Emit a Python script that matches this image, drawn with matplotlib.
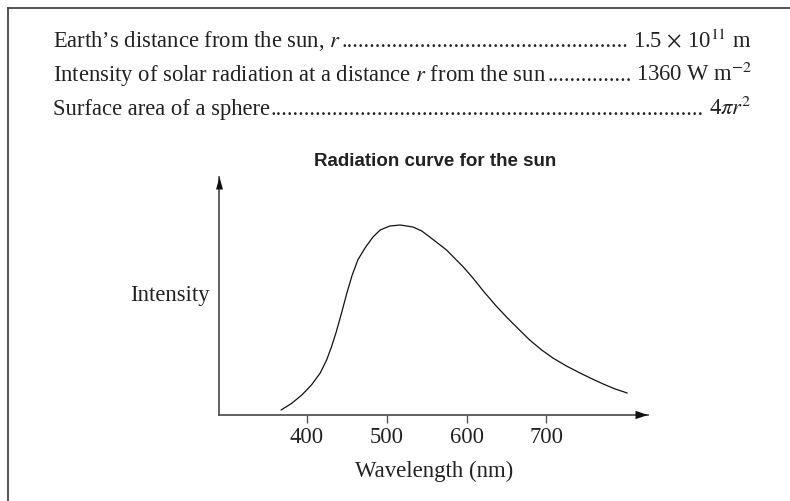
import matplotlib
matplotlib.use("Agg")
import matplotlib.pyplot as plt
from matplotlib.lines import Line2D

plt.rcParams['mathtext.fontset'] = 'stix'
plt.rcParams['font.family'] = ['Liberation Serif', 'DejaVu Serif']

# ---- data (intensity in arbitrary units) ----
wavelength = [368, 381, 394, 406, 417, 425, 431, 437, 444, 450, 457, 464, 473,
              483, 492, 504, 517, 533, 544, 554, 575, 596, 608, 621, 636, 650,
              665, 679, 694, 708, 725, 742, 756, 771, 786, 801]
intensity = [5, 11.5, 20, 30, 42, 55, 68, 83, 103, 121, 140, 155, 167,
             178, 185, 189, 190, 188, 184, 178, 165, 148, 137, 124, 110, 98,
             86, 75, 65, 57, 49, 42, 36.5, 31, 26, 22]
xticks = [400, 500, 600, 700]
title = "Radiation curve for the sun"
xlabel = "Wavelength (nm)"
ylabel = "Intensity"
info_labels = ["Earth\u2019s distance from the sun, $r$",
               "Intensity of solar radiation at a distance $r$ from the sun",
               "Surface area of a sphere"]
info_values = [r"1.5 $\times$ 10$^{11}$ m",
               r"1360 W m$^{-2}$",
               r"4$\pi r^2$"]

W, H = 790, 501
fig = plt.figure(figsize=(W / 100, H / 100), dpi=100)
fig.patch.set_facecolor('white')

# axes placement (pixels)
x0, x1 = 219.5, 648.0
y_axis, y_top = 415.0, 177.0
ax = fig.add_axes([x0 / W, 1 - y_axis / H, (x1 - x0) / W, (y_axis - y_top) / H])
ax.set_xlim(291, 827)
ax.set_ylim(0, 238)
ax.patch.set_alpha(0)

axis_col = '#555555'
txt_col = '#222222'
for s in ['top', 'right']:
    ax.spines[s].set_visible(False)
for s in ['left', 'bottom']:
    ax.spines[s].set_color(axis_col)
    ax.spines[s].set_linewidth(1.3)

ax.plot(wavelength, intensity, color='#111111', lw=0.9,
        solid_joinstyle='round', solid_capstyle='round')

ax.set_xticks(xticks)
ax.set_xticklabels([str(t) for t in xticks])
ax.set_yticks([])
ax.tick_params(axis='x', direction='out', length=5.5, width=1.0, color=axis_col,
               labelsize=16.3, labelcolor=txt_col, pad=3)

# arrow heads
ax.annotate('', xy=(1, 0), xycoords='axes fraction', xytext=(-10, 0),
            textcoords='offset points',
            arrowprops=dict(arrowstyle='-|>,head_length=0.9,head_width=0.3',
                            color='#111111', lw=0, shrinkA=0, shrinkB=0))
ax.annotate('', xy=(0, 1), xycoords='axes fraction', xytext=(0, -10),
            textcoords='offset points',
            arrowprops=dict(arrowstyle='-|>,head_length=0.9,head_width=0.25',
                            color='#111111', lw=0, shrinkA=0, shrinkB=0))

ax.set_xlabel(xlabel, fontsize=16.4, color=txt_col, labelpad=9.5)
fig.text(210 / W, 1 - 296 / H, ylabel, ha='right', va='center', fontsize=16.3,
         color=txt_col)

fig.text(435 / W, 1 - 162 / H, title, ha='center', va='center',
         fontsize=13.5, fontweight='bold', family='Liberation Sans', color=txt_col)

# frame lines (left and top)
fig.add_artist(Line2D([8 / W, 8 / W], [0, 1 - 8 / H], transform=fig.transFigure,
                      color='#444444', lw=1.3))
fig.add_artist(Line2D([8 / W, 1], [1 - 8 / H, 1 - 8 / H], transform=fig.transFigure,
                      color='#444444', lw=1.3))

# info lines with dot leaders
baselines = [47, 81, 115]
left_x, right_x = 53, 752
fs = 16.3
lefts, rights = [], []
for lab, val, b in zip(info_labels, info_values, baselines):
    lt = fig.text(left_x / W, 1 - b / H, lab, ha='left', va='baseline',
                  fontsize=fs, color=txt_col)
    rt = fig.text(right_x / W, 1 - b / H, val, ha='right', va='baseline',
                  fontsize=fs, color=txt_col)
    lefts.append(lt)
    rights.append(rt)

fig.canvas.draw()
renderer = fig.canvas.get_renderer()
probe = fig.text(0, 0, '.' * 20, fontsize=fs)
dot_w = probe.get_window_extent(renderer).width / 20
probe.remove()
for lt, rt, b in zip(lefts, rights, baselines):
    le = lt.get_window_extent(renderer).x1
    rs = rt.get_window_extent(renderer).x0
    n = int((rs - le - 2) / dot_w)
    fig.text((le + 1) / W, 1 - b / H, '.' * max(n, 0), ha='left', va='baseline',
             fontsize=fs, color=txt_col)

fig.savefig('out.png', dpi=100)
